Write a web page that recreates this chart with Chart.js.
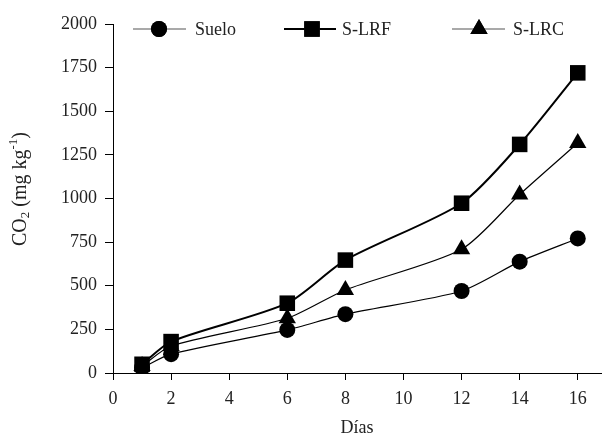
<!DOCTYPE html>
<html lang="es">
<head>
<meta charset="utf-8">
<title>CO2 acumulado</title>
<script src="https://cdn.jsdelivr.net/npm/chart.js@4.4.1/dist/chart.umd.min.js"></script>
<style>
  html, body { margin: 0; padding: 0; background: #fff; }
  #wrap { width: 602px; height: 435px; }
</style>
</head>
<body>
<div id="wrap"><canvas id="myChart" width="602" height="435"></canvas></div>
<script>
// días de muestreo y CO2 acumulado (mg kg-1)
var dias = [1, 2, 6, 8, 12, 14, 16];
var suelo = [30, 108, 247, 337, 470, 638, 771];
var sLRF = [50, 180, 400, 647, 973, 1310, 1720];
var sLRC = [40, 155, 314, 476, 709, 1023, 1318];
var yTicks = [0, 250, 500, 750, 1000, 1250, 1500, 1750, 2000];
var xTicks = [0, 2, 4, 6, 8, 10, 12, 14, 16];

var FONT = "'Liberation Serif', 'Times New Roman', serif";
var FS = 18;
var TXT = '#222';

function pts(ys) {
    return dias.map(function (d, i) { return { x: d, y: ys[i] }; });
}

// leyenda dentro del área del gráfico: línea + marcador + texto
var legendPlugin = {
    id: 'innerLegend',
    afterDraw: function (chart) {
        var ctx = chart.ctx;
        var items = [
            { ds: 0, x0: 133, mid: 159, x1: 186, tx: 195 },
            { ds: 1, x0: 284, mid: 312, x1: 336, tx: 342 },
            { ds: 2, x0: 452, mid: 479, x1: 505, tx: 513 }
        ];
        var y = 29;
        ctx.save();
        items.forEach(function (it) {
            var d = chart.data.datasets[it.ds];
            ctx.strokeStyle = d.legendLine;
            ctx.lineWidth = d.borderWidth;
            ctx.beginPath();
            ctx.moveTo(it.x0, y);
            ctx.lineTo(it.x1, y);
            ctx.stroke();
            Chart.helpers.drawPoint(ctx, {
                pointStyle: d.pointStyle,
                radius: d.pointRadius,
                borderWidth: 0
            }, it.mid, y);
            ctx.fillStyle = '#000';
            ctx.fill();
            ctx.fillStyle = TXT;
            ctx.font = FS + 'px ' + FONT;
            ctx.textBaseline = 'middle';
            ctx.textAlign = 'left';
            ctx.fillText(d.label, it.tx, y + 1);
        });
        ctx.restore();
    }
};

// título del eje Y con subíndice y superíndice
var yTitlePlugin = {
    id: 'yTitle',
    afterDraw: function (chart) {
        var ctx = chart.ctx;
        var parts = [
            { t: 'CO', size: 20, dy: 0 },
            { t: '2', size: 13, dy: 5 },
            { t: ' (mg kg', size: 20, dy: 0 },
            { t: '-1', size: 13, dy: -7 },
            { t: ')', size: 20, dy: 0 }
        ];
        ctx.save();
        var total = 0;
        parts.forEach(function (p) {
            ctx.font = p.size + 'px ' + FONT;
            p.w = ctx.measureText(p.t).width;
            total += p.w;
        });
        ctx.translate(21, 189);
        ctx.rotate(-Math.PI / 2);
        ctx.fillStyle = TXT;
        ctx.textBaseline = 'middle';
        ctx.textAlign = 'left';
        var x = -total / 2;
        parts.forEach(function (p) {
            ctx.font = p.size + 'px ' + FONT;
            ctx.fillText(p.t, x, p.dy);
            x += p.w;
        });
        ctx.restore();
    }
};

var ctx = document.getElementById('myChart').getContext('2d');
var myChart = new Chart(ctx, {
    type: 'line',
    data: {
        datasets: [{
            label: 'Suelo',
            data: pts(suelo),
            borderColor: '#000',
            legendLine: '#555',
            backgroundColor: '#000',
            borderWidth: 1.2,
            pointStyle: 'circle',
            pointRadius: 8,
            pointBorderWidth: 0,
            tension: 0.25,
            order: 2
        }, {
            label: 'S-LRF',
            data: pts(sLRF),
            borderColor: '#000',
            legendLine: '#000',
            backgroundColor: '#000',
            borderWidth: 2,
            pointStyle: 'rect',
            pointRadius: 11,
            pointBorderWidth: 0,
            tension: 0.25,
            order: 0
        }, {
            label: 'S-LRC',
            data: pts(sLRC),
            borderColor: '#000',
            legendLine: '#555',
            backgroundColor: '#000',
            borderWidth: 1.2,
            pointStyle: 'triangle',
            pointRadius: 10,
            pointBorderWidth: 0,
            tension: 0.25,
            order: 1
        }]
    },
    options: {
        responsive: false,
        animation: false,
        layout: { autoPadding: false, padding: { left: 0, right: 1, top: 24, bottom: 0 } },
        plugins: {
            legend: { display: false },
            tooltip: { enabled: false }
        },
        scales: {
            x: {
                type: 'linear',
                min: 0,
                max: 16.8,
                afterBuildTicks: function (s) {
                    s.ticks = xTicks.map(function (v) { return { value: v }; });
                },
                afterFit: function (s) {
                    s.height = 62;
                    s.paddingRight = 0;
                },
                grid: { display: true, drawOnChartArea: false, drawTicks: true, tickLength: 7, color: '#000' },
                border: { display: true, color: '#000', width: 1 },
                ticks: {
                    color: TXT, font: { family: FONT, size: FS }, padding: 8, maxRotation: 0,
                    callback: function (v) { return String(v); }
                },
                title: { display: true, text: 'Días', color: TXT, font: { family: FONT, size: FS }, padding: { top: 5, bottom: -4 } }
            },
            y: {
                min: 0,
                max: 2000,
                afterBuildTicks: function (s) {
                    s.ticks = yTicks.map(function (v) { return { value: v }; });
                },
                afterFit: function (s) {
                    s.width = 113;
                    s.paddingTop = 0;
                },
                grid: { display: true, drawOnChartArea: false, drawTicks: true, tickLength: 8, color: '#000' },
                border: { display: true, color: '#000', width: 1 },
                ticks: {
                    color: TXT, font: { family: FONT, size: FS }, padding: 8,
                    callback: function (v) { return String(v); }
                }
            }
        }
    },
    plugins: [legendPlugin, yTitlePlugin]
});
</script>
</body>
</html>
